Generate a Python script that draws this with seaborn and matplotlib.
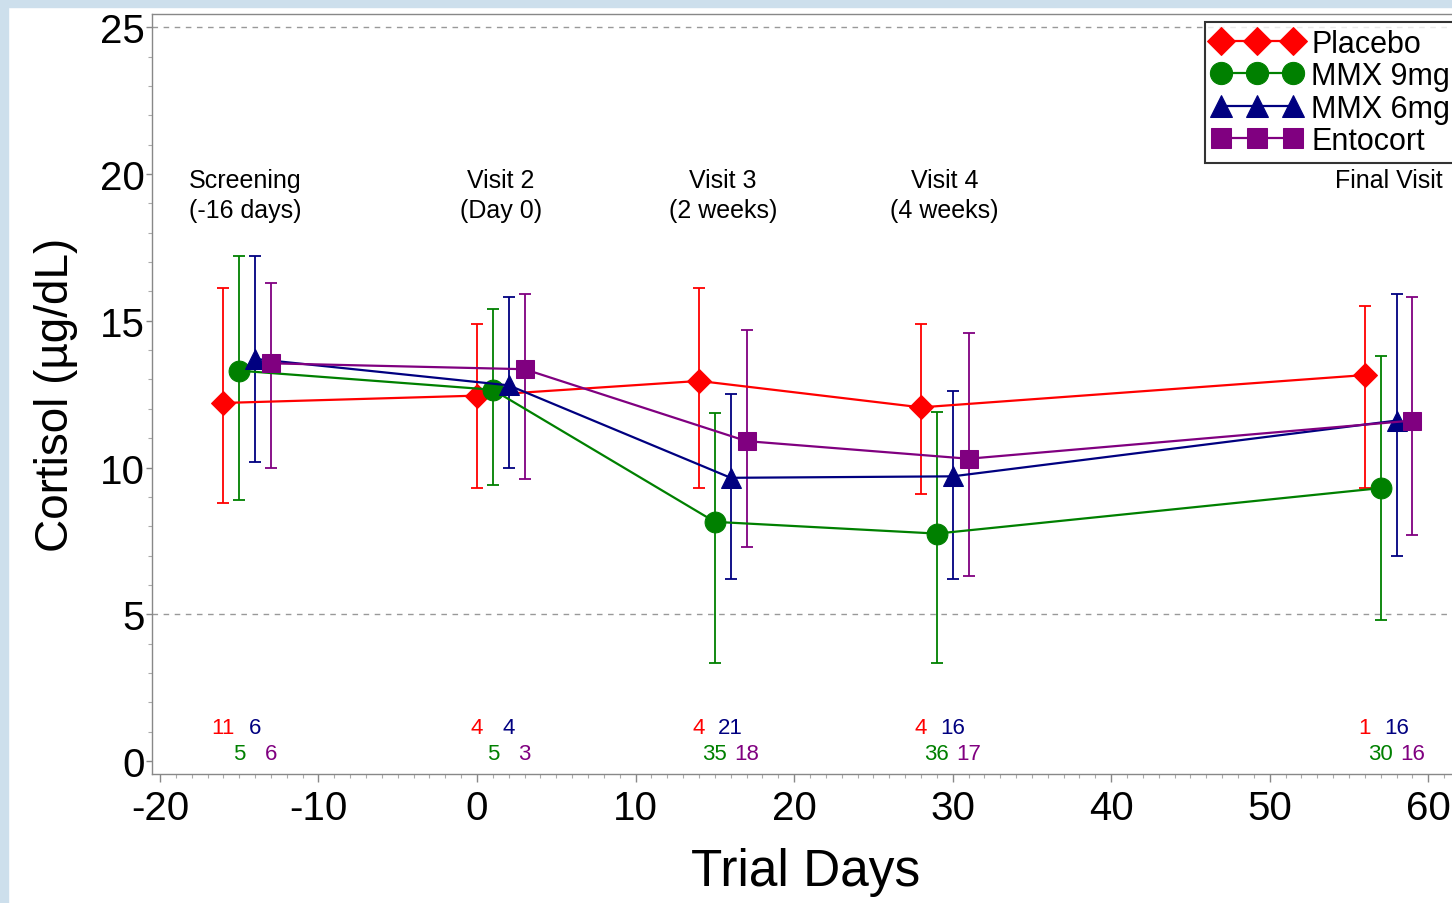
import matplotlib
matplotlib.use("Agg")
import matplotlib.pyplot as plt
import matplotlib.patches as mpatches
import seaborn as sns
import pandas as pd

# visit days per treatment (offset so the bars don't overlap)
groups = ["Placebo", "MMX 9mg", "MMX 6mg", "Entocort"]
days = {
    "Placebo": [-16, 0, 14, 28, 56],
    "MMX 9mg": [-15, 1, 15, 29, 57],
    "MMX 6mg": [-14, 2, 16, 30, 58],
    "Entocort": [-13, 3, 17, 31, 59],
}
mean_cortisol = {
    "Placebo": [12.2, 12.45, 12.95, 12.05, 13.15],
    "MMX 9mg": [13.3, 12.65, 8.15, 7.75, 9.3],
    "MMX 6mg": [13.7, 12.8, 9.65, 9.7, 11.6],
    "Entocort": [13.55, 13.35, 10.9, 10.3, 11.6],
}
err_upper = {
    "Placebo": [16.1, 14.9, 16.1, 14.9, 15.5],
    "MMX 9mg": [17.2, 15.4, 11.85, 11.9, 13.8],
    "MMX 6mg": [17.2, 15.8, 12.5, 12.6, 15.9],
    "Entocort": [16.3, 15.9, 14.7, 14.6, 15.8],
}
err_lower = {
    "Placebo": [8.8, 9.3, 9.3, 9.1, 9.3],
    "MMX 9mg": [8.9, 9.4, 3.35, 3.35, 4.8],
    "MMX 6mg": [10.2, 10.0, 6.2, 6.2, 7.0],
    "Entocort": [10.0, 9.6, 7.3, 6.3, 7.7],
}
n_patients = {
    "Placebo": [11, 4, 4, 4, 1],
    "MMX 9mg": [5, 5, 35, 36, 30],
    "MMX 6mg": [6, 4, 21, 16, 16],
    "Entocort": [6, 3, 18, 17, 16],
}
visit_labels = ["Screening\n(-16 days)", "Visit 2\n(Day 0)", "Visit 3\n(2 weeks)",
                "Visit 4\n(4 weeks)", "Final Visit"]
visit_label_x = [-14.6, 1.5, 15.5, 29.5, 57.5]

colors = {"Placebo": "#ff0000", "MMX 9mg": "#008000", "MMX 6mg": "#000080", "Entocort": "#800080"}
markers = {"Placebo": "D", "MMX 9mg": "o", "MMX 6mg": "^", "Entocort": "s"}
msizes = {"Placebo": 12, "MMX 9mg": 15, "MMX 6mg": 14, "Entocort": 13.5}
legend_msizes = [14, 16, 16, 15]
count_y = {"Placebo": 1.15, "MMX 6mg": 1.15, "MMX 9mg": 0.25, "Entocort": 0.25}

rows = []
for g in groups:
    for d, m in zip(days[g], mean_cortisol[g]):
        rows.append({"day": d, "cortisol": m, "group": g})
df = pd.DataFrame(rows)

sns.set_style("white")
plt.rcParams["font.family"] = ["Liberation Sans", "DejaVu Sans"]
plt.rcParams["axes.unicode_minus"] = False
plt.rcParams["text.color"] = "black"
plt.rcParams["axes.labelcolor"] = "black"

fig = plt.figure(figsize=(14.52, 9.04), dpi=100)
ax = fig.add_axes([0.1047, 0.1427, 0.9008, 0.8407])

# screenshot frame strips
fig.patches.append(mpatches.Rectangle((0, 1 - 8 / 904), 1, 8 / 904, transform=fig.transFigure,
                                      color="#cddfec", zorder=0))
fig.patches.append(mpatches.Rectangle((0, 0), 8 / 1452, 1, transform=fig.transFigure,
                                      color="#cddfec", zorder=0))

ax.axhline(5, color="#999999", ls=(0, (4, 4)), lw=1, zorder=0)
ax.axhline(25, color="#999999", ls=(0, (4, 4)), lw=1, zorder=0)

for g in groups:
    lo = [m - l for m, l in zip(mean_cortisol[g], err_lower[g])]
    hi = [u - m for m, u in zip(mean_cortisol[g], err_upper[g])]
    ax.errorbar(days[g], mean_cortisol[g], yerr=[lo, hi], fmt="none",
                ecolor=colors[g], elinewidth=1.3, capsize=4, capthick=1.3, zorder=2)

for g in groups:
    sns.lineplot(data=df[df["group"] == g], x="day", y="cortisol", ax=ax,
                 color=colors[g], marker=markers[g], markersize=msizes[g],
                 markeredgecolor=colors[g], linewidth=1.6, label=g, zorder=3)

for g in groups:
    for d, n in zip(days[g], n_patients[g]):
        ax.text(d, count_y[g], str(n), color=colors[g], fontsize=16,
                ha="center", va="center")

for lx, lab in zip(visit_label_x, visit_labels):
    ax.text(lx, 20.2, lab, ha="center", va="top", fontsize=18, linespacing=1.32)

ax.set_xlim(-20.5, 62)
ax.set_ylim(-0.44, 25.45)
ax.set_xticks(range(-20, 61, 10))
ax.set_yticks(range(0, 26, 5))
ax.set_xticks(range(-20, 62, 1), minor=True)
ax.set_yticks(range(0, 26, 1), minor=True)
ax.tick_params(axis="both", which="major", labelsize=29, width=1,
               color="#888888", labelcolor="black", direction="out",
               left=True, bottom=True)
ax.tick_params(axis="x", which="major", length=6, pad=5)
ax.tick_params(axis="y", which="major", length=4, pad=1)
ax.tick_params(axis="both", which="minor", length=3, width=0.8, color="#aaaaaa",
               direction="out", left=True, bottom=True)
for sp in ax.spines.values():
    sp.set_color("#888888")
    sp.set_linewidth(1)

ax.set_xlabel("Trial Days", fontsize=37, labelpad=14)
ax.set_ylabel("Cortisol (µg/dL)", fontsize=33, labelpad=16)

handles, labels = ax.get_legend_handles_labels()
leg = ax.legend(handles, labels, loc="upper left", bbox_to_anchor=(1205 / 1452, 1 - 23 / 904),
                bbox_transform=fig.transFigure, numpoints=3, fontsize=22, frameon=True,
                fancybox=False, handlelength=2.95, handletextpad=0.3, labelspacing=0.08,
                borderpad=0.22, borderaxespad=0)
leg.get_frame().set_edgecolor("black")
leg.get_frame().set_linewidth(1.5)
for h, ms in zip(leg.legend_handles, legend_msizes):
    h.set_markersize(ms)

fig.savefig("out.png", dpi=100, facecolor="white")
